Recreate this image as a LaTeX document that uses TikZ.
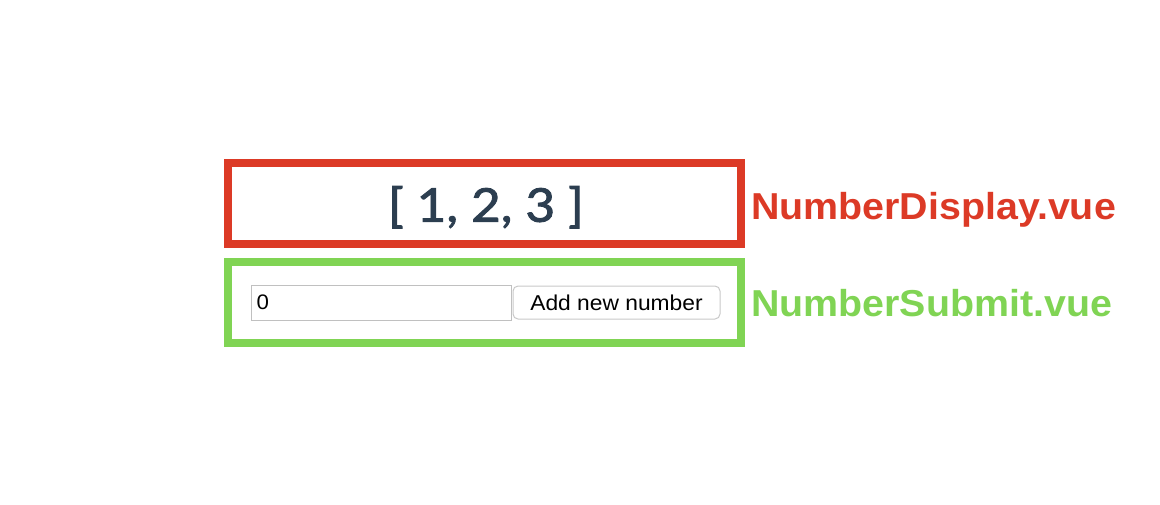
\documentclass[tikz,border=0pt]{standalone}
\usepackage{fontspec}
\setmainfont{Liberation Sans}
\newfontfamily\numfont{Lato}[FakeBold=2,FakeStretch=1.1]
\newfontfamily\labelfont{Liberation Sans}[FakeStretch=1.05]
\newfontfamily\uifont{Liberation Sans}[FakeStretch=1.06]
\definecolor{vred}{RGB}{220,58,38}
\definecolor{vgreen}{RGB}{128,212,84}
\definecolor{slate}{RGB}{44,62,80}
\definecolor{inborder}{RGB}{192,192,192}
\definecolor{btnborder}{RGB}{200,200,200}
\begin{document}
\begin{tikzpicture}[x=1pt,y=-1pt,
  compbox/.style={draw=#1,line width=8pt,minimum width=513pt,minimum height=81pt,inner sep=0pt},
  complabel/.style={text=#1,anchor=base west,inner sep=0pt,font=\labelfont\fontsize{37.5}{42}\selectfont\bfseries},
  inputbox/.style={draw=inborder,line width=1pt,minimum width=260pt,minimum height=35pt,inner sep=0pt},
  btn/.style={draw=btnborder,line width=1pt,rounded corners=5pt,minimum width=207pt,minimum height=33pt,inner sep=0pt,font=\uifont\fontsize{21.5}{24}\selectfont}]
\useasboundingbox (0,0) rectangle (1160,504);
\node[compbox=vred] (disp) at (484.5,203.5) {};
\node[compbox=vgreen] (sub) at (484.5,302.5) {};
\node[text=slate,anchor=base,inner sep=0pt,font=\numfont\fontsize{46.5}{50}\selectfont] (arr) at (486,221.7) {[ 1, 2, 3 ]};
\node[complabel=vred] (dlabel) at (751,219.5) {NumberDisplay.vue};
\node[complabel=vgreen] (slabel) at (751,316.7) {NumberSubmit.vue};
\node[inputbox] (inp) at (381,302.5) {};
\node[anchor=west,inner sep=0pt,font=\uifont\fontsize{21}{24}\selectfont] (zero) at ([xshift=6pt]inp.west) {0};
\node[btn] (button) at (616.5,302.5) {Add new number};
\end{tikzpicture}
\end{document}
